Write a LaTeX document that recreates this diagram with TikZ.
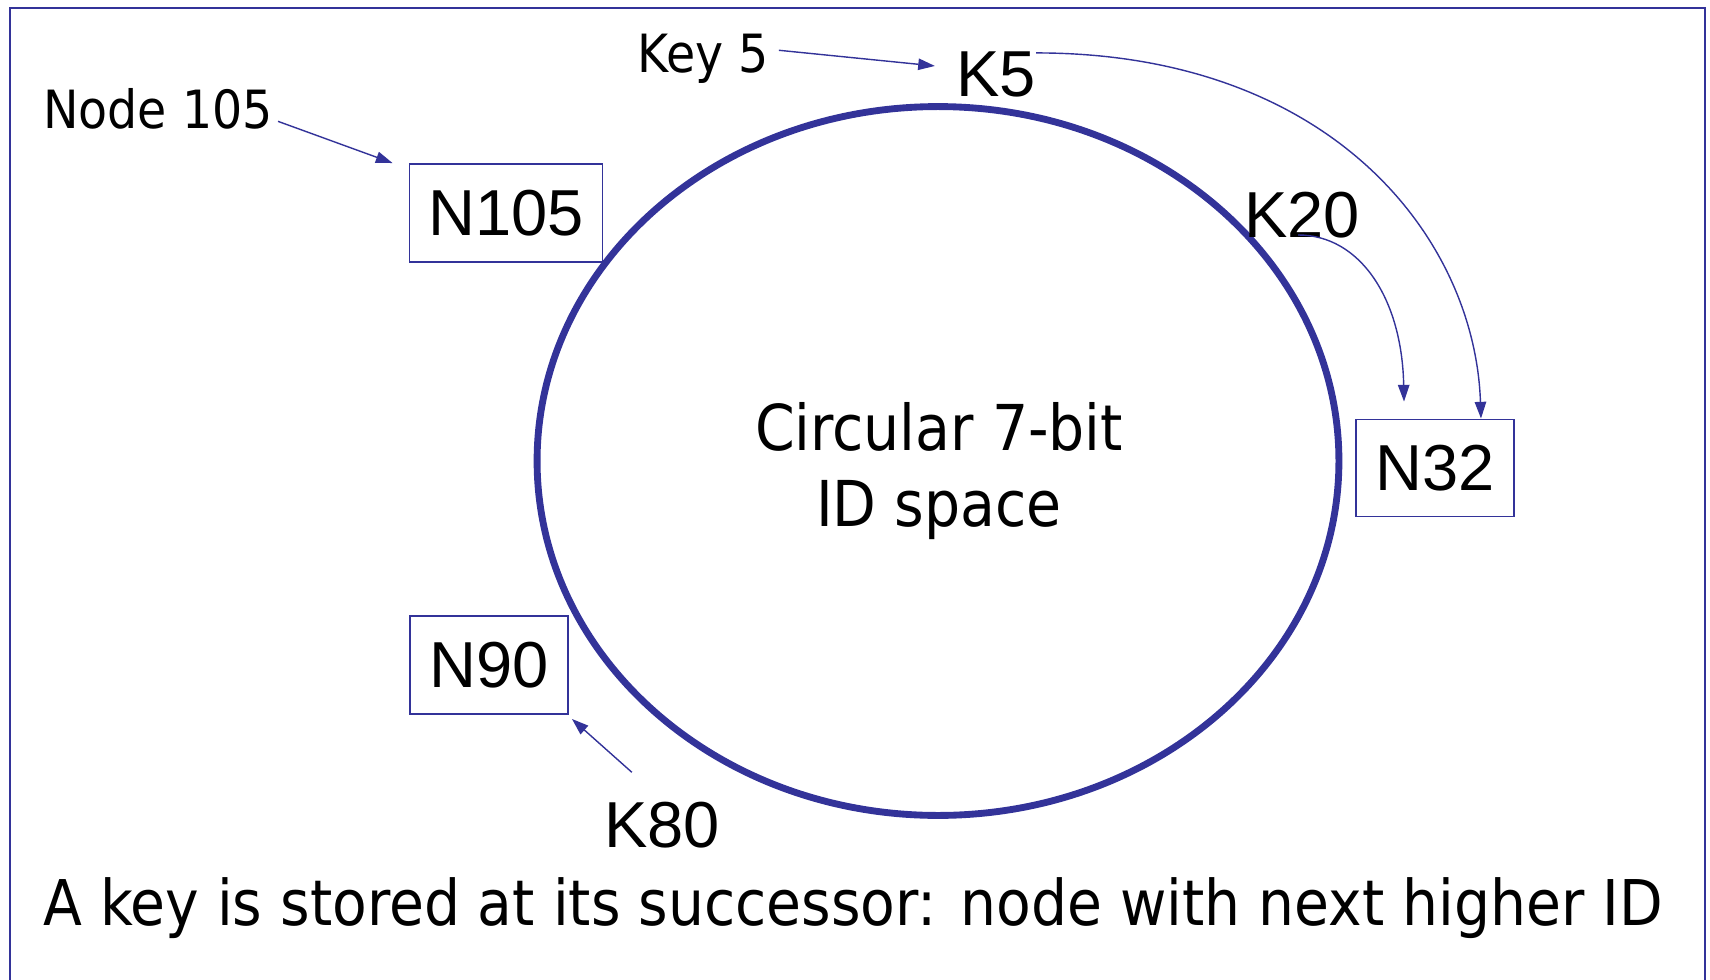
\documentclass[tikz,border=0pt]{standalone}
\usepackage{fontspec}
\setmainfont{DejaVu Sans Condensed}
\newfontfamily\arialfont{Liberation Sans}
\usetikzlibrary{positioning,arrows.meta,calc,shapes.geometric}
\definecolor{chblue}{RGB}{51,51,153}
\tikzset{
  ch/.style={inner sep=0pt, text=black},
  chlbl/.style={ch, font=\fontsize{30}{36}\selectfont, anchor=base},
  chbig/.style={ch, font=\fontsize{36}{43}\selectfont},
  chkey/.style={ch, font=\arialfont\fontsize{37}{44}\selectfont, anchor=base},
  chbox/.style={
    draw=chblue, line width=1.1pt, inner sep=0pt,
    font=\arialfont\fontsize{37}{44}\selectfont,
    minimum width=3.16cm, minimum height=1.96cm
  },
  charr/.style={-{Triangle[length=9.5pt,width=6.5pt]}, line width=0.8pt, draw=chblue, fill=chblue},
  chring/.style={draw=chblue, line width=3.9pt, ellipse, inner sep=0pt},
  chframe/.style={draw=chblue, line width=1.1pt},
}

\begin{document}
\begin{tikzpicture}[x=0.02cm, y=-0.02cm]
  \useasboundingbox (0,0) rectangle (1710,980);
  \draw[chframe] (10,995) |- (1705,8) -- (1705,995);

  % the ID ring
  \node[chring, minimum width=16.04cm, minimum height=14.18cm] (ring) at (938,461) {};
  \node[chbig, align=center] (idspace) at ($(ring.center)+(1,10)$) {Circular 7-bit\\ID space};

  % nodes on the ring
  \node[chbox, minimum width=3.86cm] (n105) at (506,213) {N105};
  \node[chbox, minimum height=1.94cm] (n32) at (1435,468) {N32};
  \node[chbox] (n90) at (489,665) {N90};

  % keys and labels
  \node[chlbl] (node105) at (158,129) {Node 105};
  \node[chlbl] (key5) at (703,72) {Key 5};
  \node[chkey] (k5) at (996,96) {K5};
  \node[chkey] (k20) at (1302,237) {K20};
  \node[chkey] (k80) at (662,847) {K80};

  \draw[charr] ($(node105.east)+(5,12)$) -- ($(n105.north west)+(-16,0)$);
  \draw[charr] ($(key5.east)+(10,-8)$) -- ($(k5.west)+(-21,-8)$);
  \draw[charr, fill=none] ($(k5.north east)+(0,2)$) .. controls +(296,0) and +(-6,-180) .. ($(n32.north)+(46,0)$);
  \draw[charr, fill=none] ($(k20.south)+(-4,-3)$) .. controls +(62,0) and +(-2,-103) .. ($(n32.north)+(-31,-17)$);
  \draw[charr] ($(k80.north west)+(28,-29)$) -- ($(n90.south east)+(3,4)$);

  \node[chbig, anchor=base, font=\fontsize{35.9}{43}\selectfont] (caption) at (853,925)
    {A key is stored at its successor: node with next higher ID};
\end{tikzpicture}
\end{document}
